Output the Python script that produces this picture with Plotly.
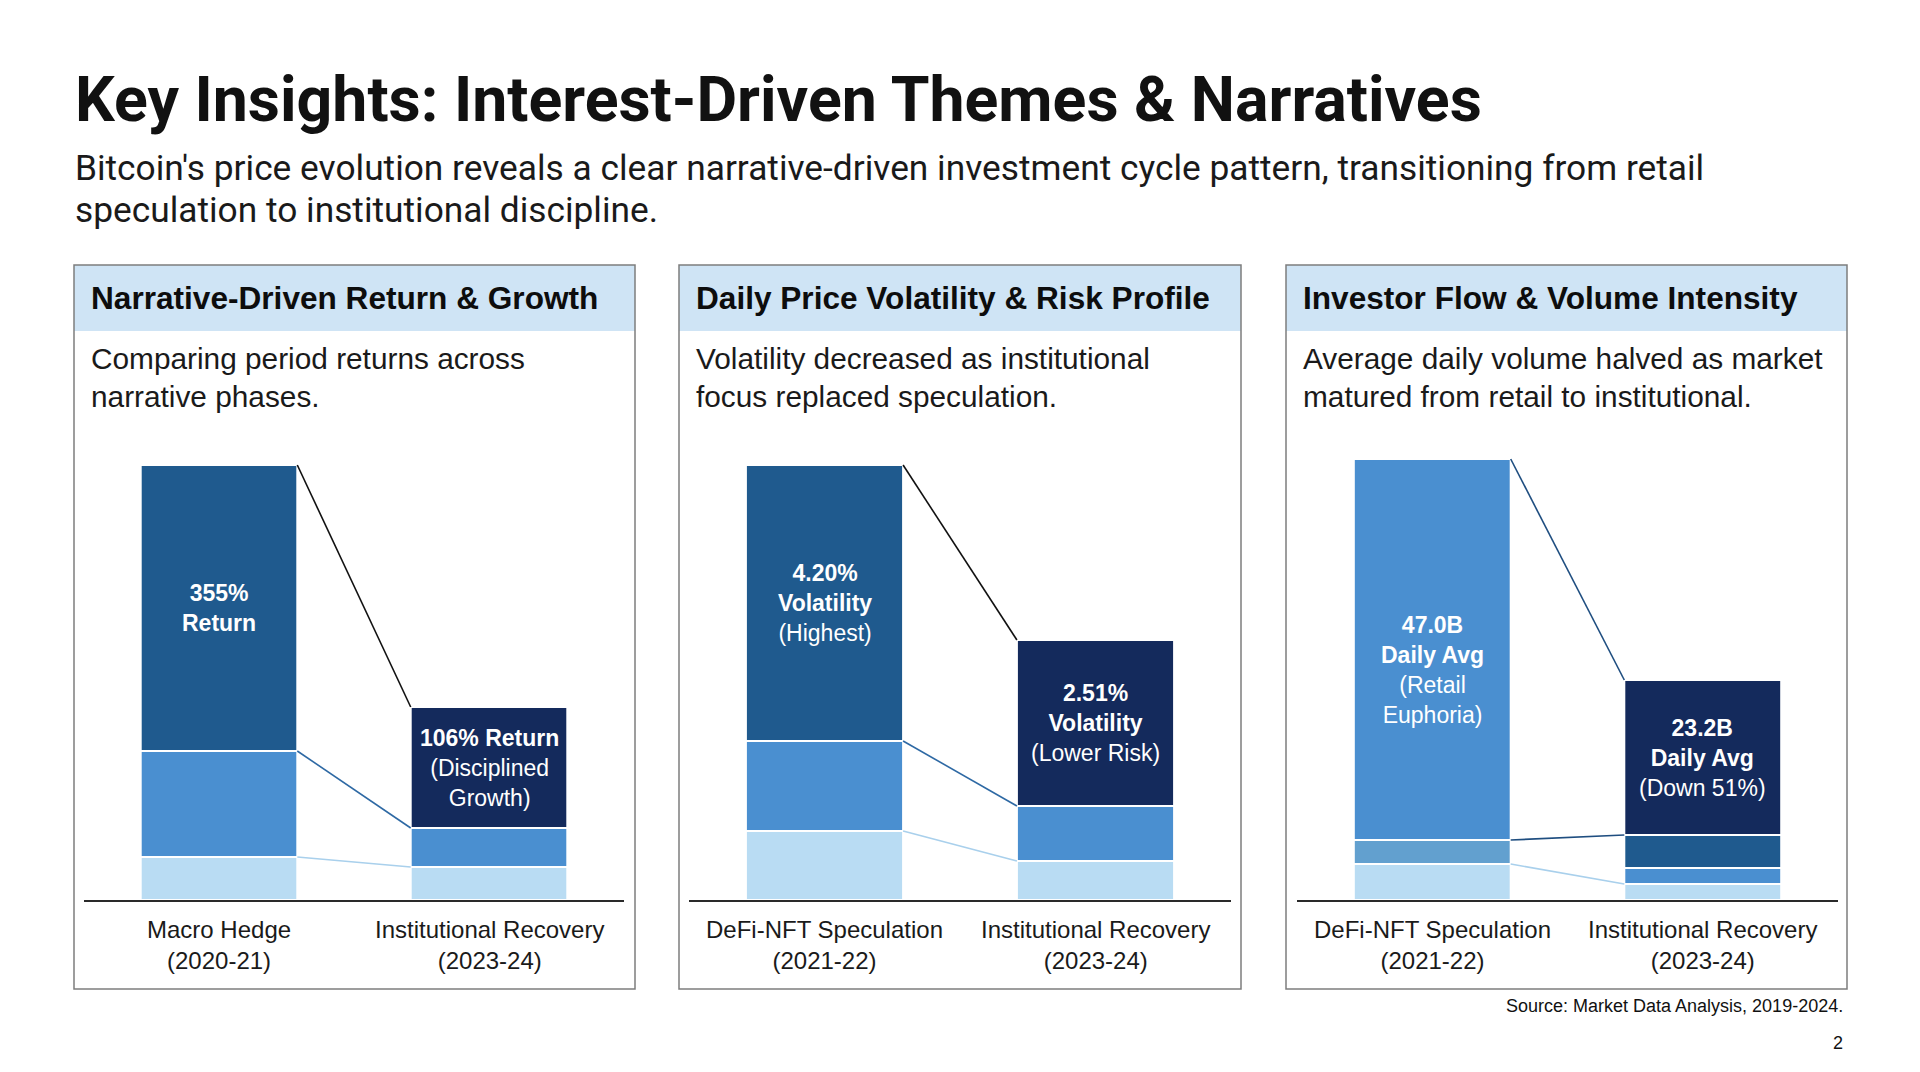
import plotly.graph_objects as go

W, H = 1920, 1072

# ---------------- data ----------------
title_text = "Key Insights: Interest-Driven Themes & Narratives"
subtitle_lines = ["Bitcoin's price evolution reveals a clear narrative-driven investment cycle pattern, "
                  "transitioning from retail",
                  "speculation to institutional discipline."]

panel_titles = ["Narrative-Driven Return & Growth",
                "Daily Price Volatility & Risk Profile",
                "Investor Flow & Volume Intensity"]
panel_descs = [["Comparing period returns across", "narrative phases."],
               ["Volatility decreased as institutional", "focus replaced speculation."],
               ["Average daily volume halved as market", "matured from retail to institutional."]]

return_categories = ["Macro Hedge<br>(2020-21)", "Institutional Recovery<br>(2023-24)"]
volatility_categories = ["DeFi-NFT Speculation<br>(2021-22)", "Institutional Recovery<br>(2023-24)"]
volume_categories = ["DeFi-NFT Speculation<br>(2021-22)", "Institutional Recovery<br>(2023-24)"]

# stacked segment heights (bottom -> top), relative bar heights as drawn
return_macro_segments = [43, 106, 286]
return_inst_segments = [33, 39, 121]
volatility_defi_segments = [69, 90, 276]
volatility_inst_segments = [39, 55, 166]
volume_defi_segments = [36, 24, 381]
volume_inst_segments = [16, 16, 33, 155]

return_labels = ["<b>355%<br>Return</b>", "<b>106% Return</b><br>(Disciplined<br>Growth)"]
volatility_labels = ["<b>4.20%<br>Volatility</b><br>(Highest)", "<b>2.51%<br>Volatility</b><br>(Lower Risk)"]
volume_labels = ["<b>47.0B<br>Daily Avg</b><br>(Retail<br>Euphoria)", "<b>23.2B<br>Daily Avg</b><br>(Down 51%)"]

source_text = "Source: Market Data Analysis, 2019-2024."
page_number = "2"

# ---------------- styles ----------------
LIGHT = "#b9dcf3"
MID = "#4a8fd0"
DARK = "#1f5a8e"
NAVY = "#142a5c"
STEEL = "#62a0cf"

panel_colors = [
    ([LIGHT, MID, DARK], [LIGHT, MID, NAVY]),
    ([LIGHT, MID, DARK], [LIGHT, MID, NAVY]),
    ([LIGHT, STEEL, MID], [LIGHT, MID, DARK, NAVY]),
]
panel_segments = [
    (return_macro_segments, return_inst_segments),
    (volatility_defi_segments, volatility_inst_segments),
    (volume_defi_segments, volume_inst_segments),
]
panel_categories = [return_categories, volatility_categories, volume_categories]
panel_labels = [return_labels, volatility_labels, volume_labels]
label_yshift = [(0, 0), (0, 0), (-20, 0)]
# which boundaries to connect (index of cumulative top in bar1, bar2), with colour
panel_connectors = [
    [(0, 0, "#a9d0ec"), (1, 1, "#2e69a4"), (2, 2, "#111111")],
    [(0, 0, "#a9d0ec"), (1, 1, "#2e69a4"), (2, 2, "#111111")],
    [(0, 0, "#a9d0ec"), (1, 2, "#1f4e80"), (2, 3, "#1f4e80")],
]

panel_px = [(74, 635), (679, 1241), (1286, 1847)]
domain_px = [(84, 624), (689, 1231), (1297, 1838)]
panel_top, header_bottom, panel_bottom = 265, 331, 989
base_px, top_px, y_max = 900, 440, 460
BAR_W = 0.58

FONT = "Liberation Sans, Arial, sans-serif"


def px_x(p):
    return p / W


def px_y(p):
    return 1 - p / H


fig = go.Figure()
shapes = []
annotations = []

for i in range(3):
    ax = "" if i == 0 else str(i + 1)
    xref, yref = "x" + ax, "y" + ax
    segs_pair = panel_segments[i]
    cols_pair = panel_colors[i]
    tops_pair = []
    for b in range(2):
        segs = segs_pair[b]
        cum = 0
        tops = []
        for s, c in zip(segs, cols_pair[b]):
            fig.add_trace(go.Bar(
                x=[b], y=[s], base=[cum], width=BAR_W,
                marker=dict(color=c, line=dict(color="white", width=2)),
                xaxis=xref, yaxis=yref, showlegend=False, hoverinfo="skip"))
            cum += s
            tops.append(cum)
        tops_pair.append(tops)
        # label centred in the top segment
        ytxt = (tops[-2] + tops[-1]) / 2
        annotations.append(dict(
            x=b, y=ytxt, xref=xref, yref=yref, text=panel_labels[i][b],
            showarrow=False, align="center", xanchor="center", yanchor="middle",
            yshift=label_yshift[i][b],
            font=dict(family=FONT, size=23, color="white")))
        # category label
        annotations.append(dict(
            x=b, y=px_y(945), xref=xref, yref="paper", text=panel_categories[i][b],
            showarrow=False, align="center", xanchor="center", yanchor="middle",
            font=dict(family=FONT, size=24, color="#1a1a1a")))
    for i1, i2, col in panel_connectors[i]:
        fig.add_trace(go.Scatter(
            x=[BAR_W / 2, 1 - BAR_W / 2],
            y=[tops_pair[0][i1], tops_pair[1][i2]],
            mode="lines", line=dict(color=col, width=1.6),
            xaxis=xref, yaxis=yref, showlegend=False, hoverinfo="skip"))

    d0, d1 = domain_px[i]
    xkey = "xaxis" if i == 0 else f"xaxis{i + 1}"
    ykey = "yaxis" if i == 0 else f"yaxis{i + 1}"
    fig.layout[xkey] = dict(domain=[px_x(d0), px_x(d1)], range=[-0.5, 1.5],
                            showline=True, linecolor="#2a2a2a", linewidth=2,
                            showgrid=False, zeroline=False, showticklabels=False,
                            ticks="", anchor="y" + ax, fixedrange=True)
    fig.layout[ykey] = dict(domain=[px_y(base_px), px_y(top_px)], range=[0, y_max],
                            visible=False, anchor="x" + ax, fixedrange=True)

    p0, p1 = panel_px[i]
    shapes.append(dict(type="rect", xref="paper", yref="paper",
                       x0=px_x(p0), x1=px_x(p1), y0=px_y(header_bottom), y1=px_y(panel_top),
                       fillcolor="#cfe4f5", line=dict(width=0), layer="below"))
    shapes.append(dict(type="rect", xref="paper", yref="paper",
                       x0=px_x(p0), x1=px_x(p1), y0=px_y(panel_bottom), y1=px_y(panel_top),
                       fillcolor="rgba(0,0,0,0)", line=dict(color="#7d7d7d", width=1.5)))
    annotations.append(dict(
        x=px_x(p0 + 15), y=px_y(298), xref="paper", yref="paper",
        text="<b>" + panel_titles[i] + "</b>", showarrow=False,
        xanchor="left", yanchor="middle",
        font=dict(family=FONT, size=31.6, color="#0d0d0d")))
    for k, line_y in enumerate([359, 396]):
        annotations.append(dict(
            x=px_x(p0 + 15), y=px_y(line_y), xref="paper", yref="paper",
            text=panel_descs[i][k], showarrow=False, align="left",
            xanchor="left", yanchor="middle",
            font=dict(family=FONT, size=29.8, color="#1a1a1a")))

annotations.append(dict(
    x=px_x(73), y=px_y(100), xref="paper", yref="paper",
    text="<b>" + title_text + "</b>", showarrow=False, xanchor="left", yanchor="middle",
    font=dict(family="Roboto, sans-serif", size=62.6, color="#111111")))
for k, line_y in enumerate([168, 210]):
    annotations.append(dict(
        x=px_x(73), y=px_y(line_y), xref="paper", yref="paper",
        text=subtitle_lines[k], showarrow=False, align="left", xanchor="left", yanchor="middle",
        font=dict(family="Roboto, sans-serif", size=35.3, color="#1a1a1a")))
annotations.append(dict(
    x=px_x(1845), y=px_y(1006), xref="paper", yref="paper",
    text=source_text, showarrow=False, xanchor="right", yanchor="middle",
    font=dict(family=FONT, size=18, color="#111111")))
annotations.append(dict(
    x=px_x(1845), y=px_y(1043), xref="paper", yref="paper",
    text=page_number, showarrow=False, xanchor="right", yanchor="middle",
    font=dict(family=FONT, size=18, color="#111111")))

fig.update_layout(
    width=W, height=H, autosize=False,
    margin=dict(l=0, r=0, t=0, b=0),
    paper_bgcolor="#ffffff", plot_bgcolor="rgba(0,0,0,0)",
    barmode="overlay", showlegend=False,
    shapes=shapes, annotations=annotations,
)

fig.write_html("out.html", config={"displayModeBar": False})
